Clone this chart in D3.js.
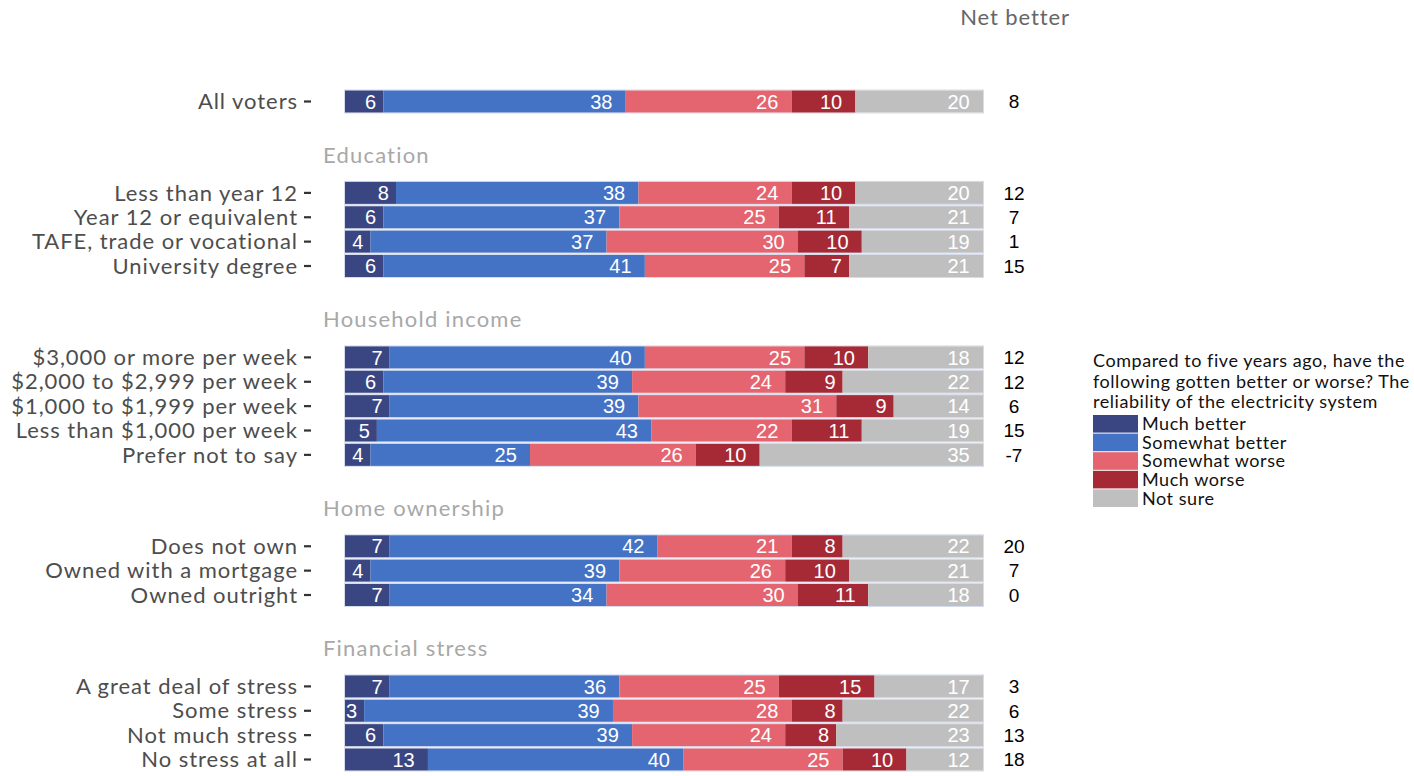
<!DOCTYPE html>
<html>
<head>
<meta charset="utf-8">
<script src="https://cdn.jsdelivr.net/npm/d3@7"></script>
<style>
  html, body { margin: 0; padding: 0; background: #ffffff; }
  svg { display: block; }
</style>
</head>
<body>
<svg id="chart" width="1414" height="776"></svg>
<script>
// ---------------- DATA ----------------
const groupNames = ["", "Education", "Household income", "Home ownership", "Financial stress"];
const categories = [
  "All voters",
  "Less than year 12", "Year 12 or equivalent", "TAFE, trade or vocational", "University degree",
  "$3,000 or more per week", "$2,000 to $2,999 per week", "$1,000 to $1,999 per week", "Less than $1,000 per week", "Prefer not to say",
  "Does not own", "Owned with a mortgage", "Owned outright",
  "A great deal of stress", "Some stress", "Not much stress", "No stress at all"
];
const categoryGroup = [0, 1,1,1,1, 2,2,2,2,2, 3,3,3, 4,4,4,4];
const responses = ["Much better", "Somewhat better", "Somewhat worse", "Much worse", "Not sure"];
const muchBetter     = [6, 8, 6, 4, 6, 7, 6, 7, 5, 4, 7, 4, 7, 7, 3, 6, 13];
const somewhatBetter = [38, 38, 37, 37, 41, 40, 39, 39, 43, 25, 42, 39, 34, 36, 39, 39, 40];
const somewhatWorse  = [26, 24, 25, 30, 25, 25, 24, 31, 22, 26, 21, 26, 30, 25, 28, 24, 25];
const muchWorse      = [10, 10, 11, 10, 7, 10, 9, 9, 11, 10, 8, 10, 11, 15, 8, 8, 10];
const notSure        = [20, 20, 21, 19, 21, 18, 22, 14, 19, 35, 22, 21, 18, 17, 22, 23, 12];
const netBetter      = [8, 12, 7, 1, 15, 12, 12, 6, 15, -7, 20, 7, 0, 3, 6, 13, 18];
const legendTitle = ["Compared to five years ago, have the", "following gotten better or worse? The", "reliability of the electricity system"];
const netTitle = "Net better";
const colors = ["#3a4682", "#4472c4", "#e4656f", "#a52a35", "#bfbfbf"];

// ---------------- LAYOUT ----------------
const svg = d3.select("#chart");
const sansA = "Lato, 'Open Sans', sans-serif";
const sansB = "'Liberation Sans', Arial, sans-serif";

const series = [muchBetter, somewhatBetter, somewhatWorse, muchWorse, notSure];
const rows = categories.map((c, i) => {
  const vals = series.map(s => s[i]);
  let cum = 0;
  const segs = vals.map((v, k) => { const s = {key: responses[k], k, x0: cum, x1: cum + v, v}; cum += v; return s; });
  return {cat: c, i, group: categoryGroup[i], segs, net: netBetter[i]};
});

// slot index: consecutive rows step 1, gap between groups
const gapSlots = 3.75;
let slot = 0;
rows.forEach((r, i) => {
  if (i > 0) slot += (r.group !== rows[i - 1].group) ? gapSlots : 1;
  r.slot = slot;
});
const lastSlot = rows[rows.length - 1].slot;

const x = d3.scaleLinear().domain([0, 100]).range([345, 983]);
const y = d3.scaleLinear().domain([0, lastSlot]).range([101.5, 759.5]);
const barH = 22;

const color = d3.scaleOrdinal().domain(responses).range(colors);

// Group headers
const groupFirst = groupNames.map((g, gi) => rows.find(r => r.group === gi));
svg.append("g").selectAll("text")
  .data(groupNames.map((g, gi) => ({g, r: groupFirst[gi]})).filter(d => d.g !== ""))
  .join("text")
  .attr("x", 323)
  .attr("y", d => y(d.r.slot) - 38)
  .attr("dy", "0.35em")
  .attr("font-family", sansA)
  .attr("font-size", 22)
  .attr("letter-spacing", "1.2px")
  .attr("fill", "#a8a8a8")
  .text(d => d.g);

// Y axis for each row (category labels with ticks)
const yAxisG = svg.append("g");
rows.forEach(r => {
  yAxisG.append("line")
    .attr("x1", 304).attr("x2", 311)
    .attr("y1", y(r.slot)).attr("y2", y(r.slot))
    .attr("stroke", "#333").attr("stroke-width", 2.2);
  yAxisG.append("text")
    .attr("x", 298).attr("y", y(r.slot))
    .attr("dy", "0.35em")
    .attr("text-anchor", "end")
    .attr("font-family", sansA)
    .attr("font-size", 22)
    .attr("letter-spacing", "0.95px")
    .attr("fill", "#4d4d4d")
    .text(r.cat);
});

// Bars
const barsG = svg.append("g");
rows.forEach(r => {
  const g = barsG.append("g");
  g.append("rect")
    .attr("x", x(0) - 0.5).attr("y", y(r.slot) - barH / 2 - 0.5)
    .attr("width", x(100) - x(0) + 1).attr("height", barH + 1)
    .attr("fill", "none").attr("stroke", "#d5dcec").attr("stroke-width", 1);
  g.selectAll("rect.seg").data(r.segs).join("rect")
    .attr("class", "seg")
    .attr("x", d => x(d.x0))
    .attr("y", y(r.slot) - barH / 2)
    .attr("width", d => x(d.x1) - x(d.x0))
    .attr("height", barH)
    .attr("fill", d => color(d.key));
  const t = g.selectAll("text.lab").data(r.segs).join("text")
    .attr("class", "lab")
    .attr("y", y(r.slot))
    .attr("dy", "0.36em")
    .attr("text-anchor", "end")
    .attr("font-family", sansB)
    .attr("font-size", 20)
    .attr("fill", "#ffffff")
    .text(d => d.v);
  t.each(function(d) {
    const w = this.getComputedTextLength();
    d3.select(this).attr("x", x(d.x1) - 0.55 * w - 1);
  });
});

// Net better column
svg.append("text")
  .attr("x", 1015).attr("y", 17)
  .attr("dy", "0.35em")
  .attr("text-anchor", "middle")
  .attr("font-family", sansA)
  .attr("font-size", 22)
  .attr("letter-spacing", "0.9px")
  .attr("fill", "#666666")
  .text(netTitle);
svg.append("g").selectAll("text").data(rows).join("text")
  .attr("x", 1014).attr("y", r => y(r.slot))
  .attr("dy", "0.36em")
  .attr("text-anchor", "middle")
  .attr("font-family", sansB)
  .attr("font-size", 19)
  .attr("fill", "#000000")
  .text(r => r.net);

// Legend
const lg = svg.append("g").attr("transform", "translate(1093,0)");
lg.selectAll("text.title").data(legendTitle).join("text")
  .attr("class", "title")
  .attr("x", 0).attr("y", (d, i) => 361 + i * 20.5)
  .attr("dy", "0.35em")
  .attr("font-family", sansA)
  .attr("font-size", 18)
  .attr("letter-spacing", "0.55px")
  .attr("fill", "#111")
  .text(d => d);
const keyH = 18.6;
lg.selectAll("rect").data(responses).join("rect")
  .attr("x", 0).attr("y", (d, i) => 415 + i * keyH)
  .attr("width", 45).attr("height", keyH - 1)
  .attr("fill", d => color(d));
lg.selectAll("text.key").data(responses).join("text")
  .attr("class", "key")
  .attr("x", 49).attr("y", (d, i) => 415 + i * keyH + (keyH - 1) / 2)
  .attr("dy", "0.35em")
  .attr("font-family", sansA)
  .attr("font-size", 18)
  .attr("letter-spacing", "0.55px")
  .attr("fill", "#111")
  .text(d => d);
</script>
</body>
</html>
